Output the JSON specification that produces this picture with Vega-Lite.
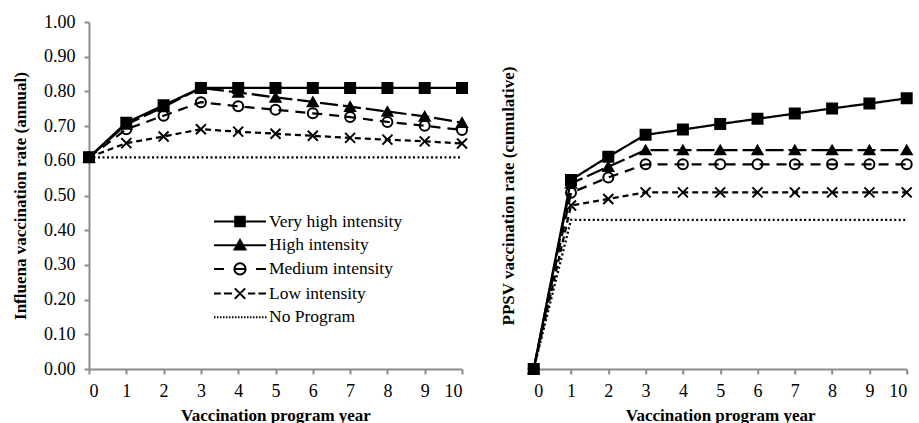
{
  "$schema": "https://vega.github.io/schema/vega-lite/v6.json",
  "padding": {"left": 11, "top": 13, "right": 5, "bottom": 0},
  "bounds": "flush",
  "spacing": 71.7,
  "config": {
    "view": {"stroke": null},
    "font": "Liberation Serif",
    "style": {"guide-label": {"font": "Liberation Serif"}, "guide-title": {"font": "Liberation Serif"}},
    "axis": {
      "grid": false,
      "domainColor": "#8c8c8c",
      "domainWidth": 2,
      "tickColor": "#8c8c8c",
      "tickWidth": 2,
      "tickSize": 5,
      "labelFont": "Liberation Serif",
      "labelFontSize": 18,
      "labelColor": "black",
      "labelOverlap": false,
      "titleFont": "Liberation Serif",
      "titleFontSize": 17,
      "titleFontWeight": "bold",
      "titleColor": "black"
    },
    "legend": {"padding": 0}
  },
  "datasets": {
    "flu": [
      {"series": "No Program", "year": 0, "rate": 0.61},
      {"series": "No Program", "year": 1, "rate": 0.61},
      {"series": "No Program", "year": 2, "rate": 0.61},
      {"series": "No Program", "year": 3, "rate": 0.61},
      {"series": "No Program", "year": 4, "rate": 0.61},
      {"series": "No Program", "year": 5, "rate": 0.61},
      {"series": "No Program", "year": 6, "rate": 0.61},
      {"series": "No Program", "year": 7, "rate": 0.61},
      {"series": "No Program", "year": 8, "rate": 0.61},
      {"series": "No Program", "year": 9, "rate": 0.61},
      {"series": "No Program", "year": 10, "rate": 0.61},
      {"series": "Low intensity", "year": 0, "rate": 0.61},
      {"series": "Low intensity", "year": 1, "rate": 0.651},
      {"series": "Low intensity", "year": 2, "rate": 0.67},
      {"series": "Low intensity", "year": 3, "rate": 0.691},
      {"series": "Low intensity", "year": 4, "rate": 0.684},
      {"series": "Low intensity", "year": 5, "rate": 0.678},
      {"series": "Low intensity", "year": 6, "rate": 0.672},
      {"series": "Low intensity", "year": 7, "rate": 0.666},
      {"series": "Low intensity", "year": 8, "rate": 0.661},
      {"series": "Low intensity", "year": 9, "rate": 0.656},
      {"series": "Low intensity", "year": 10, "rate": 0.65},
      {"series": "Medium intensity", "year": 0, "rate": 0.61},
      {"series": "Medium intensity", "year": 1, "rate": 0.691},
      {"series": "Medium intensity", "year": 2, "rate": 0.73},
      {"series": "Medium intensity", "year": 3, "rate": 0.769},
      {"series": "Medium intensity", "year": 4, "rate": 0.757},
      {"series": "Medium intensity", "year": 5, "rate": 0.747},
      {"series": "Medium intensity", "year": 6, "rate": 0.737},
      {"series": "Medium intensity", "year": 7, "rate": 0.726},
      {"series": "Medium intensity", "year": 8, "rate": 0.712},
      {"series": "Medium intensity", "year": 9, "rate": 0.701},
      {"series": "Medium intensity", "year": 10, "rate": 0.689},
      {"series": "High intensity", "year": 0, "rate": 0.61},
      {"series": "High intensity", "year": 1, "rate": 0.705},
      {"series": "High intensity", "year": 2, "rate": 0.755},
      {"series": "High intensity", "year": 3, "rate": 0.81},
      {"series": "High intensity", "year": 4, "rate": 0.797},
      {"series": "High intensity", "year": 5, "rate": 0.783},
      {"series": "High intensity", "year": 6, "rate": 0.77},
      {"series": "High intensity", "year": 7, "rate": 0.756},
      {"series": "High intensity", "year": 8, "rate": 0.742},
      {"series": "High intensity", "year": 9, "rate": 0.728},
      {"series": "High intensity", "year": 10, "rate": 0.71},
      {"series": "Very high intensity", "year": 0, "rate": 0.61},
      {"series": "Very high intensity", "year": 1, "rate": 0.71},
      {"series": "Very high intensity", "year": 2, "rate": 0.76},
      {"series": "Very high intensity", "year": 3, "rate": 0.81},
      {"series": "Very high intensity", "year": 4, "rate": 0.81},
      {"series": "Very high intensity", "year": 5, "rate": 0.81},
      {"series": "Very high intensity", "year": 6, "rate": 0.81},
      {"series": "Very high intensity", "year": 7, "rate": 0.81},
      {"series": "Very high intensity", "year": 8, "rate": 0.81},
      {"series": "Very high intensity", "year": 9, "rate": 0.81},
      {"series": "Very high intensity", "year": 10, "rate": 0.81}
    ],
    "ppsv": [
      {"series": "No Program", "year": 0, "rate": 0},
      {"series": "No Program", "year": 1, "rate": 0.43},
      {"series": "No Program", "year": 2, "rate": 0.43},
      {"series": "No Program", "year": 3, "rate": 0.43},
      {"series": "No Program", "year": 4, "rate": 0.43},
      {"series": "No Program", "year": 5, "rate": 0.43},
      {"series": "No Program", "year": 6, "rate": 0.43},
      {"series": "No Program", "year": 7, "rate": 0.43},
      {"series": "No Program", "year": 8, "rate": 0.43},
      {"series": "No Program", "year": 9, "rate": 0.43},
      {"series": "No Program", "year": 10, "rate": 0.43},
      {"series": "Low intensity", "year": 0, "rate": 0},
      {"series": "Low intensity", "year": 1, "rate": 0.471},
      {"series": "Low intensity", "year": 2, "rate": 0.49},
      {"series": "Low intensity", "year": 3, "rate": 0.509},
      {"series": "Low intensity", "year": 4, "rate": 0.509},
      {"series": "Low intensity", "year": 5, "rate": 0.509},
      {"series": "Low intensity", "year": 6, "rate": 0.509},
      {"series": "Low intensity", "year": 7, "rate": 0.509},
      {"series": "Low intensity", "year": 8, "rate": 0.509},
      {"series": "Low intensity", "year": 9, "rate": 0.509},
      {"series": "Low intensity", "year": 10, "rate": 0.509},
      {"series": "Medium intensity", "year": 0, "rate": 0},
      {"series": "Medium intensity", "year": 1, "rate": 0.508},
      {"series": "Medium intensity", "year": 2, "rate": 0.552},
      {"series": "Medium intensity", "year": 3, "rate": 0.59},
      {"series": "Medium intensity", "year": 4, "rate": 0.59},
      {"series": "Medium intensity", "year": 5, "rate": 0.59},
      {"series": "Medium intensity", "year": 6, "rate": 0.59},
      {"series": "Medium intensity", "year": 7, "rate": 0.59},
      {"series": "Medium intensity", "year": 8, "rate": 0.59},
      {"series": "Medium intensity", "year": 9, "rate": 0.59},
      {"series": "Medium intensity", "year": 10, "rate": 0.59},
      {"series": "High intensity", "year": 0, "rate": 0},
      {"series": "High intensity", "year": 1, "rate": 0.535},
      {"series": "High intensity", "year": 2, "rate": 0.583},
      {"series": "High intensity", "year": 3, "rate": 0.631},
      {"series": "High intensity", "year": 4, "rate": 0.631},
      {"series": "High intensity", "year": 5, "rate": 0.631},
      {"series": "High intensity", "year": 6, "rate": 0.631},
      {"series": "High intensity", "year": 7, "rate": 0.631},
      {"series": "High intensity", "year": 8, "rate": 0.631},
      {"series": "High intensity", "year": 9, "rate": 0.631},
      {"series": "High intensity", "year": 10, "rate": 0.631},
      {"series": "Very high intensity", "year": 0, "rate": 0},
      {"series": "Very high intensity", "year": 1, "rate": 0.545},
      {"series": "Very high intensity", "year": 2, "rate": 0.612},
      {"series": "Very high intensity", "year": 3, "rate": 0.675},
      {"series": "Very high intensity", "year": 4, "rate": 0.69},
      {"series": "Very high intensity", "year": 5, "rate": 0.706},
      {"series": "Very high intensity", "year": 6, "rate": 0.721},
      {"series": "Very high intensity", "year": 7, "rate": 0.736},
      {"series": "Very high intensity", "year": 8, "rate": 0.751},
      {"series": "Very high intensity", "year": 9, "rate": 0.765},
      {"series": "Very high intensity", "year": 10, "rate": 0.78}
    ]
  },
  "hconcat": [
    {
      "width": 373,
      "height": 347,
      "data": {"name": "flu"},
      "encoding": {
        "x": {"field": "year", "type": "quantitative", "scale": {"domain": [0, 10], "nice": false, "zero": false},
              "axis": {"values": [0,1,2,3,4,5,6,7,8,9,10], "tickCount": 11, "format": "d", "title": "Vaccination program year", "labelFont": "Liberation Serif", "labelFontSize": 18, "labelOverlap": false, "labelPadding": 8, "titlePadding": 7}},
        "y": {"field": "rate", "type": "quantitative", "scale": {"domain": [0, 1], "nice": false},
              "axis": {"values": [0,0.1,0.2,0.3,0.4,0.5,0.6,0.7,0.8,0.9,1], "tickCount": 11, "format": ".2f", "labelFont": "Liberation Serif", "labelFontSize": 18, "labelOverlap": false, "title": "Influena vaccination rate (annual)", "labelPadding": 9, "titlePadding": 14}}
      },
      "layer": [
        {
          "mark": {"type": "line", "strokeWidth": 2.25, "color": "black"},
          "encoding": {
            "strokeDash": {"field": "series", "type": "nominal", "legend": null,
              "scale": {"domain": ["Very high intensity", "High intensity", "Medium intensity", "Low intensity", "No Program"],
                        "range": [[1, 0], [18, 5], [10, 7], [6, 4], [2, 2.5]]}}
          }
        },
        {
          "transform": [{"filter": "datum.series !== 'No Program'"}],
          "mark": {"type": "point", "filled": false, "stroke": "black", "strokeWidth": 2, "size": 100, "opacity": 1},
          "encoding": {
            "shape": {"field": "series", "type": "nominal", "legend": null,
              "scale": {"domain": ["Very high intensity", "High intensity", "Medium intensity", "Low intensity"],
                        "range": ["square", "triangle-up", "circle", "M-1,-1L1,1M-1,1L1,-1"]}},
            "fill": {"field": "series", "type": "nominal", "legend": null,
              "scale": {"domain": ["Very high intensity", "High intensity", "Medium intensity", "Low intensity"],
                        "range": ["black", "black", "transparent", "transparent"]}}
          }
        },
        {
          "mark": {"type": "point", "filled": false, "stroke": "black", "strokeWidth": 2, "opacity": 0},
          "encoding": {
            "shape": {"field": "series", "type": "nominal",
              "scale": {"domain": ["Very high intensity", "High intensity", "Medium intensity", "Low intensity", "No Program"],
                        "range": [
                          "M-3.25,0H3.25M-0.6,-0.6H0.6V0.6H-0.6ZM-0.6,-0.35H0.6M-0.6,-0.1H0.6M-0.6,0.1H0.6M-0.6,0.35H0.6",
                          "M-3.25,0H3.25M0,-0.65L0.68,0.55H-0.68ZM-0.17,-0.35H0.17M-0.31,-0.1H0.31M-0.42,0.1H0.42M-0.56,0.35H0.56",
                          "M-3.25,0H-2M-0.7,0H0.7M2,0H3.25M0.7,0A0.7,0.7,0,1,1,-0.7,0A0.7,0.7,0,1,1,0.7,0Z",
                          "M-3.25,0H-2.4M-2,0H-1M-0.65,-0.65L0.65,0.65M-0.65,0.65L0.65,-0.65M1,0H1.9M2.3,0H3.25",
                          "M-3.25,0h0.19M-2.875,0h0.19M-2.5,0h0.19M-2.125,0h0.19M-1.75,0h0.19M-1.375,0h0.19M-1,0h0.19M-0.625,0h0.19M-0.25,0h0.19M0.125,0h0.19M0.5,0h0.19M0.875,0h0.19M1.25,0h0.19M1.625,0h0.19M2,0h0.19M2.375,0h0.19M2.75,0h0.19M3.125,0h0.19"
                        ]},
              "legend": {"title": null, "orient": "none", "legendX": 142, "legendY": 190.5, "symbolSize": 256, "symbolStrokeWidth": 2, "symbolStrokeColor": "black", "symbolFillColor": "transparent", "symbolOpacity": 1, "labelFont": "Liberation Serif", "labelFontSize": 17.5, "labelColor": "black", "labelOffset": 20, "rowPadding": 4.7, "labelLimit": 300}}
          }
        }
      ],
      "resolve": {"scale": {"shape": "independent", "fill": "independent"}}
    },
    {
      "width": 373,
      "height": 347,
      "data": {"name": "ppsv"},
      "encoding": {
        "x": {"field": "year", "type": "quantitative", "scale": {"domain": [0, 10], "nice": false, "zero": false},
              "axis": {"values": [0,1,2,3,4,5,6,7,8,9,10], "tickCount": 11, "format": "d", "title": "Vaccination program year", "labelFont": "Liberation Serif", "labelFontSize": 18, "labelOverlap": false, "labelPadding": 8, "titlePadding": 7}},
        "y": {"field": "rate", "type": "quantitative", "scale": {"domain": [0, 1], "nice": false},
              "axis": {"domain": false, "ticks": false, "labels": false, "title": "PPSV vaccination rate (cumulative)", "titlePadding": 16}}
      },
      "layer": [
        {
          "mark": {"type": "line", "strokeWidth": 2.25, "color": "black"},
          "encoding": {
            "strokeDash": {"field": "series", "type": "nominal", "legend": null,
              "scale": {"domain": ["Very high intensity", "High intensity", "Medium intensity", "Low intensity", "No Program"],
                        "range": [[1, 0], [18, 5], [10, 7], [6, 4], [2, 2.5]]}}
          }
        },
        {
          "transform": [{"filter": "datum.series !== 'No Program'"}],
          "mark": {"type": "point", "filled": false, "stroke": "black", "strokeWidth": 2, "size": 100, "opacity": 1},
          "encoding": {
            "shape": {"field": "series", "type": "nominal", "legend": null,
              "scale": {"domain": ["Very high intensity", "High intensity", "Medium intensity", "Low intensity"],
                        "range": ["square", "triangle-up", "circle", "M-1,-1L1,1M-1,1L1,-1"]}},
            "fill": {"field": "series", "type": "nominal", "legend": null,
              "scale": {"domain": ["Very high intensity", "High intensity", "Medium intensity", "Low intensity"],
                        "range": ["black", "black", "transparent", "transparent"]}}
          }
        }
      ]
    }
  ],
  "resolve": {"scale": {"shape": "independent", "fill": "independent", "strokeDash": "independent"}}
}
